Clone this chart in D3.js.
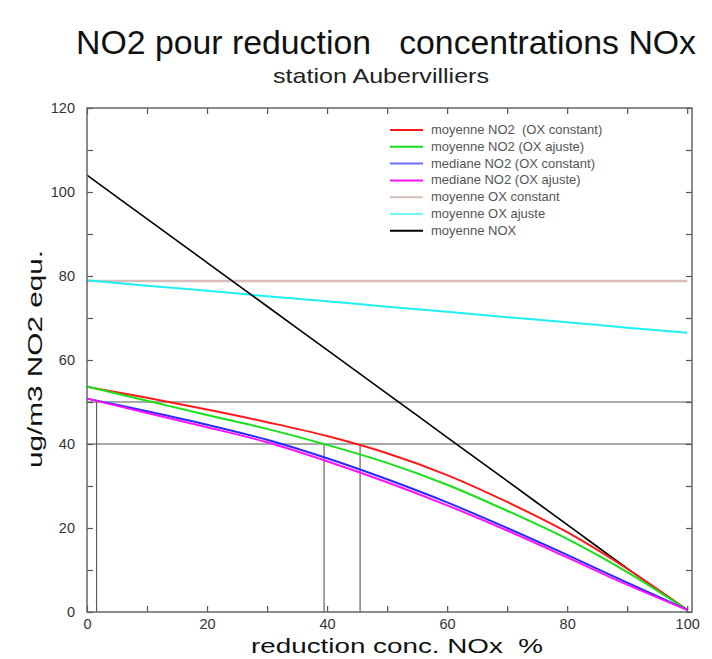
<!DOCTYPE html>
<html>
<head>
<meta charset="utf-8">
<script src="https://cdn.jsdelivr.net/npm/d3@7"></script>
<style>
  body { margin: 0; background: #fff; }
  text { font-family: "Liberation Sans", Arial, sans-serif; }
</style>
</head>
<body>
<svg id="chart" width="712" height="659"></svg>
<script>
"use strict";

// data, reduction NOx in %
const reduction = [0, 10, 20, 30, 40, 50, 60, 70, 80, 90, 100];
const moyNO2OxConst = [53.6, 51.0, 48.2, 45.2, 41.9, 37.8, 32.6, 26.2, 19.0, 10.3, 0.5];
const moyNO2OxAjuste = [53.7, 50.3, 46.9, 43.6, 39.8, 35.5, 30.3, 24.1, 17.4, 9.5, 0.5];
const medNO2OxConst = [50.8, 47.8, 44.6, 41.0, 36.6, 31.6, 26.1, 20.0, 13.6, 7.0, 0.5];
const medNO2OxAjuste = [50.8, 47.4, 44.0, 40.4, 35.9, 30.9, 25.4, 19.4, 13.0, 6.5, 0.5];
const moyOxConst = [78.8, 78.8, 78.8, 78.8, 78.8, 78.8, 78.8, 78.8, 78.8, 78.8, 78.8];
const moyOxAjuste = [79.0, 77.7, 76.5, 75.2, 74.0, 72.7, 71.5, 70.2, 69.0, 67.7, 66.5];
const moyNOx = [104.0, 93.6, 83.2, 72.8, 62.4, 52.0, 41.6, 31.2, 20.8, 10.4, 0.5];

const seriesNames = [
  "moyenne NO2  (OX constant)",
  "moyenne NO2 (OX ajuste)",
  "mediane NO2 (OX constant)",
  "mediane NO2 (OX ajuste)",
  "moyenne OX constant",
  "moyenne OX ajuste",
  "moyenne NOX"
];
const seriesValues = [moyNO2OxConst, moyNO2OxAjuste, medNO2OxConst, medNO2OxAjuste, moyOxConst, moyOxAjuste, moyNOx];
const seriesColors = ["#ff1a1a", "#16e016", "#2a2aff", "#ff10ff", "#d8bcbc", "#20f0f0", "#000000"];
const legendColors = ["#ff1a1a", "#16e016", "#6e6eff", "#ff10ff", "#d8bcbc", "#70f8f8", "#000000"];

// threshold lines (y) and crossing markers (x, top y)
const thresholds = [50, 40];
const markers = [{x: 1.6, top: 50}, {x: 39.5, top: 40}, {x: 45.5, top: 40}];

const xTicks = [0, 20, 40, 60, 80, 100];
const yTicks = [0, 20, 40, 60, 80, 100, 120];

// layout
const frame = {left: 87, right: 692, top: 108, bottom: 612};
const svg = d3.select("#chart");

const x = d3.scaleLinear().domain([0, 100.8]).range([frame.left, frame.right]);
const y = d3.scaleLinear().domain([0, 120]).range([frame.bottom, frame.top]);

// titles
svg.append("text")
  .attr("x", 386).attr("y", 54)
  .attr("text-anchor", "middle")
  .attr("font-size", 33)
  .attr("fill", "#111")
  .attr("textLength", 620)
  .attr("lengthAdjust", "spacingAndGlyphs")
  .attr("xml:space", "preserve")
  .style("white-space", "pre")
  .text("NO2 pour reduction   concentrations NOx");

svg.append("text")
  .attr("x", 381).attr("y", 83)
  .attr("text-anchor", "middle")
  .attr("font-size", 21)
  .attr("fill", "#222")
  .attr("textLength", 216)
  .attr("lengthAdjust", "spacingAndGlyphs")
  .text("station Aubervilliers");

// axes (ticks inside on all four sides)
const tickColor = "#555";
function styleAxis(g) {
  g.select(".domain").remove();
  g.selectAll(".tick line").attr("stroke", tickColor).attr("stroke-width", 1.2);
  g.selectAll(".tick text")
    .attr("fill", "#333")
    .attr("font-size", 14.5)
    .style("font-family", "'Liberation Sans', Arial, sans-serif");
}

svg.append("g")
  .attr("transform", `translate(0,${frame.bottom})`)
  .call(d3.axisTop(x).tickValues(d3.range(0, 101, 10)).tickSize(6).tickFormat(""))
  .call(styleAxis);
svg.append("g")
  .attr("transform", `translate(0,${frame.bottom})`)
  .call(d3.axisBottom(x).tickValues(xTicks).tickSize(0).tickPadding(7))
  .call(styleAxis);
svg.append("g")
  .attr("transform", `translate(0,${frame.top})`)
  .call(d3.axisBottom(x).tickValues(d3.range(0, 101, 10)).tickSize(6).tickFormat(""))
  .call(styleAxis);

svg.append("g")
  .attr("transform", `translate(${frame.left},0)`)
  .call(d3.axisRight(y).tickValues(d3.range(0, 121, 10)).tickSize(6).tickFormat(""))
  .call(styleAxis);
svg.append("g")
  .attr("transform", `translate(${frame.left},0)`)
  .call(d3.axisLeft(y).tickValues(yTicks).tickSize(0).tickPadding(12))
  .call(styleAxis);
svg.append("g")
  .attr("transform", `translate(${frame.right},0)`)
  .call(d3.axisLeft(y).tickValues(d3.range(0, 121, 10)).tickSize(6).tickFormat(""))
  .call(styleAxis);

// threshold lines and markers
svg.append("g").selectAll("line")
  .data(thresholds)
  .join("line")
  .attr("x1", frame.left).attr("x2", frame.right)
  .attr("y1", d => y(d)).attr("y2", d => y(d))
  .attr("stroke", "#555").attr("stroke-width", 1.1);

svg.append("g").selectAll("line")
  .data(markers)
  .join("line")
  .attr("x1", d => x(d.x)).attr("x2", d => x(d.x))
  .attr("y1", y(0)).attr("y2", d => y(d.top))
  .attr("stroke", "#555").attr("stroke-width", 1.1);

// curves
const line = d3.line()
  .x((d, i) => x(reduction[i]))
  .y(d => y(d))
  .curve(d3.curveCatmullRom.alpha(0.5));

const order = [4, 5, 6, 0, 1, 2, 3];
svg.append("g").selectAll("path")
  .data(order)
  .join("path")
  .attr("d", k => line(seriesValues[k]))
  .attr("fill", "none")
  .attr("stroke", k => seriesColors[k])
  .attr("stroke-width", k => k === 6 ? 1.6 : (k === 4 ? 2.6 : 2));

// frame
svg.append("rect")
  .attr("x", frame.left).attr("y", frame.top)
  .attr("width", frame.right - frame.left)
  .attr("height", frame.bottom - frame.top)
  .attr("fill", "none")
  .attr("stroke", "#666").attr("stroke-width", 1.5);

// legend
const legend = svg.append("g").attr("transform", "translate(390,130)");
const rows = legend.selectAll("g")
  .data(seriesNames)
  .join("g")
  .attr("transform", (d, i) => `translate(0,${i * 16.8})`);
rows.append("line")
  .attr("x1", 0).attr("x2", 33)
  .attr("stroke", (d, i) => legendColors[i])
  .attr("stroke-width", 2);
rows.append("text")
  .attr("x", 41).attr("y", 4)
  .attr("font-size", 13)
  .attr("fill", "#555")
  .attr("xml:space", "preserve")
  .style("white-space", "pre")
  .text(d => d);

// axis titles
svg.append("text")
  .attr("x", 397).attr("y", 653)
  .attr("text-anchor", "middle")
  .attr("font-size", 21)
  .attr("fill", "#111")
  .attr("textLength", 292)
  .attr("lengthAdjust", "spacingAndGlyphs")
  .attr("xml:space", "preserve")
  .style("white-space", "pre")
  .text("reduction conc. NOx  %");

svg.append("text")
  .attr("transform", "translate(42,359) rotate(-90)")
  .attr("text-anchor", "middle")
  .attr("font-size", 20)
  .attr("fill", "#111")
  .attr("textLength", 218)
  .attr("lengthAdjust", "spacingAndGlyphs")
  .text("ug/m3 NO2 equ.");
</script>
</body>
</html>
